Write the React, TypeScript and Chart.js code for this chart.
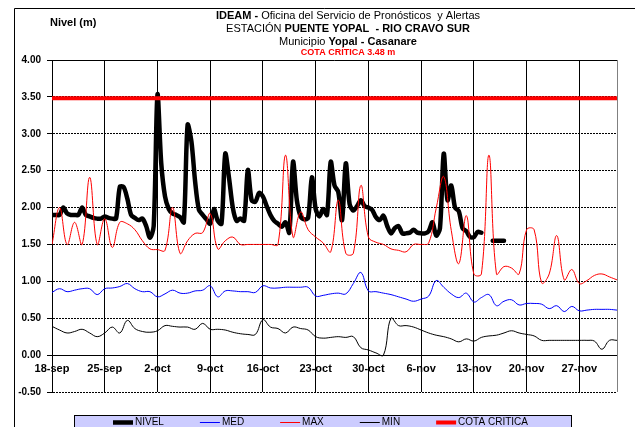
import React, { useEffect, useRef } from 'react';
import { Chart, registerables } from 'chart.js';

Chart.register(...registerables);

const FONT = '"Liberation Sans", Arial, Helvetica, sans-serif';

// X axis: days since 18-sep (0 .. 75 = 2-dec), labelled weekly
const X_TICK_LABELS = ['18-sep', '25-sep', '2-oct', '9-oct', '16-oct', '23-oct', '30-oct', '6-nov', '13-nov', '20-nov', '27-nov'];
const LAST_DAY = 75;

// NIVEL: two readings per day starting 18-sep (null = no reading)
const NIVEL = [
  1.90, 1.90, 1.90, 2.00, 1.92, 1.90, 1.90, 1.90, 2.00, 1.90,
  1.88, 1.86, 1.85, 1.85, 1.88, 1.86, 1.85, 1.85, 2.28, 2.28,
  2.12, 1.90, 1.86, 1.83, 1.85, 1.75, 1.59, 1.75, 3.53, 2.60,
  2.15, 1.98, 1.92, 1.90, 1.87, 1.80, 3.12, 2.90, 2.35, 1.97,
  1.90, 1.84, 1.78, 1.98, 1.82, 1.78, 2.73, 2.40, 2.00, 1.82,
  1.85, 1.82, 2.51, 2.10, 2.08, 2.20, 2.15, 2.02, 1.90, 1.82,
  1.78, 1.74, 1.80, 1.66, 2.62, 2.10, 1.88, 1.84, 1.86, 2.41,
  1.98, 1.88, 1.98, 1.90, 2.62, 2.30, 2.21, 1.83, 2.60, 2.05,
  1.96, 2.02, 2.10, 2.02, 2.00, 1.97, 1.87, 1.83, 1.89, 1.75,
  1.65, 1.72, 1.75, 1.65, 1.65, 1.66, 1.70, 1.66, 1.65, 1.65,
  1.68, 1.80, 1.62, 1.72, 2.73, 2.10, 2.30, 2.00, 1.95, 1.72,
  1.68, 1.60, 1.60, 1.67, 1.66, null, null, 1.55, 1.55, 1.55,
  1.55,
];

// Daily series, 18-sep .. 2-dec
const MED = [
  0.85, 0.90, 0.86, 0.88, 0.90, 0.90, 0.82, 0.90, 0.91, 0.93,
  0.97, 0.90, 0.86, 0.86, 0.79, 0.83, 0.88, 0.84, 0.84, 0.87,
  0.88, 0.94, 0.79, 0.87, 0.87, 0.86, 0.86, 0.85, 0.94, 0.91,
  0.91, 0.92, 0.92, 0.92, 0.92, 0.80, 0.81, 0.83, 0.84, 0.83,
  0.97, 1.12, 0.87, 0.86, 0.84, 0.82, 0.79, 0.76, 0.73, 0.76,
  0.80, 1.01, 0.92, 0.83, 0.78, 0.84, 0.72, 0.78, 0.82, 0.67,
  0.73, 0.75, 0.68, 0.70, 0.70, 0.69, 0.63, 0.67, 0.59, 0.66,
  0.60, 0.61, 0.62, 0.62, 0.62, 0.61,
];

const MAX = [
  1.50, 2.00, 1.50, 1.80, 1.50, 2.41, 1.50, 1.85, 1.46, 1.80,
  1.78, 1.70, 1.55, 1.44, 1.43, 1.42, 2.00, 1.38, 1.55, 1.65,
  1.66, 1.92, 1.44, 1.55, 1.60, 1.50, 1.50, 1.50, 1.50, 1.50,
  1.50, 2.71, 1.60, 1.94, 1.70, 1.60, 1.52, 1.40, 2.10, 1.38,
  1.38, 2.30, 1.60, 1.53, 1.50, 1.44, 1.42, 1.40, 1.50, 1.50,
  1.52, 1.99, 2.42, 1.69, 1.24, 1.89, 1.10, 1.10, 2.71, 1.10,
  1.20, 1.18, 1.10, 1.70, 1.70, 0.98, 1.10, 1.62, 1.02, 1.16,
  0.97, 1.01, 1.08, 1.10, 1.06, 1.02,
];

const MIN = [
  0.39, 0.34, 0.30, 0.32, 0.35, 0.30, 0.25, 0.30, 0.38, 0.30,
  0.47, 0.36, 0.32, 0.31, 0.33, 0.40, 0.39, 0.38, 0.38, 0.35,
  0.43, 0.35, 0.35, 0.34, 0.31, 0.29, 0.28, 0.28, 0.48, 0.38,
  0.36, 0.30, 0.38, 0.36, 0.34, 0.25, 0.23, 0.24, 0.25, 0.24,
  0.25, 0.10, 0.07, 0.03, 0.00, 0.50, 0.40, 0.40, 0.38, 0.34,
  0.30, 0.27, 0.25, 0.22, 0.18, 0.22, 0.19, 0.24, 0.26, 0.27,
  0.30, 0.33, 0.30, 0.28, 0.26, 0.20, 0.20, 0.20, 0.20, 0.20,
  0.20, 0.20, 0.19, 0.08, 0.20, 0.20,
];

const COTA_CRITICA = 3.48;

const Y_MIN = -0.5;
const Y_MAX = 4;
const Y_STEP = 0.5;

const TITLE_LINES = [
  [{ t: 'IDEAM - ', b: true }, { t: 'Oficina del Servicio de Pronósticos  y Alertas', b: false }],
  [{ t: 'ESTACIÓN ', b: false }, { t: 'PUENTE YOPAL  - RIO CRAVO SUR', b: true }],
  [{ t: 'Municipio ', b: false }, { t: 'Yopal - Casanare', b: true }],
];
const SUBTITLE = 'COTA CRÍTICA 3.48 m';
const Y_TITLE = 'Nivel (m)';

function drawRich(ctx: CanvasRenderingContext2D, segs: { t: string; b: boolean }[], cx: number, cy: number, size: number, color: string) {
  let total = 0;
  const widths: number[] = [];
  segs.forEach((s) => {
    ctx.font = `${s.b ? 'bold ' : ''}${size}px ${FONT}`;
    const w = ctx.measureText(s.t).width;
    widths.push(w);
    total += w;
  });
  let x = cx - total / 2;
  ctx.textAlign = 'left';
  ctx.textBaseline = 'middle';
  ctx.fillStyle = color;
  segs.forEach((s, i) => {
    ctx.font = `${s.b ? 'bold ' : ''}${size}px ${FONT}`;
    ctx.fillText(s.t, x, cy);
    x += widths[i];
  });
}

const decorPlugin = {
  id: 'decor',
  beforeDraw(chart: any) {
    const ctx = chart.ctx as CanvasRenderingContext2D;
    ctx.save();
    ctx.fillStyle = '#ffffff';
    ctx.fillRect(0, 0, chart.width, chart.height);
    // outer frame
    ctx.strokeStyle = '#000';
    ctx.lineWidth = 1;
    ctx.beginPath();
    ctx.moveTo(14.5, chart.height);
    ctx.lineTo(14.5, 8.5);
    ctx.lineTo(chart.width, 8.5);
    ctx.stroke();
    ctx.restore();
  },
  beforeDatasetsDraw(chart: any) {
    const ctx = chart.ctx as CanvasRenderingContext2D;
    const a = chart.chartArea;
    ctx.save();
    ctx.lineWidth = 1;
    ctx.strokeStyle = '#000';
    ctx.beginPath();
    ctx.moveTo(Math.round(a.left) - 0.5, Math.round(a.top) + 0.5);
    ctx.lineTo(Math.round(a.right), Math.round(a.top) + 0.5);
    ctx.stroke();
    ctx.strokeStyle = '#808080';
    ctx.beginPath();
    ctx.moveTo(Math.round(a.right) + 0.5, a.top);
    ctx.lineTo(Math.round(a.right) + 0.5, a.bottom);
    ctx.stroke();
    ctx.restore();
  },
  afterDraw(chart: any) {
    const ctx = chart.ctx as CanvasRenderingContext2D;
    ctx.save();
    // titles
    const cx = 348;
    const ys = [16, 29, 42];
    TITLE_LINES.forEach((line, i) => drawRich(ctx, line, cx, ys[i], 11, '#000'));
    drawRich(ctx, [{ t: SUBTITLE, b: true }], cx, 53, 9, '#ff0000');
    ctx.font = `bold 11px ${FONT}`;
    ctx.fillStyle = '#000';
    ctx.textAlign = 'left';
    ctx.textBaseline = 'middle';
    ctx.fillText(Y_TITLE, 50, 23);

    // legend
    ctx.fillStyle = '#ccccff';
    ctx.fillRect(74.5, 415.5, 497, 20);
    ctx.strokeStyle = '#000';
    ctx.lineWidth = 1;
    ctx.strokeRect(74.5, 415.5, 497, 20);
    let x = 113;
    const ly = 422.5;
    ctx.font = `10px ${FONT}`;
    chart.data.datasets.forEach((ds: any) => {
      ctx.strokeStyle = ds.borderColor;
      ctx.lineWidth = ds.borderWidth;
      ctx.lineCap = 'butt';
      ctx.beginPath();
      ctx.moveTo(x, ly);
      ctx.lineTo(x + 20, ly);
      ctx.stroke();
      ctx.fillStyle = '#000';
      ctx.textAlign = 'left';
      ctx.textBaseline = 'middle';
      ctx.fillText(ds.label, x + 22, ly);
      x += 22 + ctx.measureText(ds.label).width + 36;
    });
    ctx.restore();
  },
};

export default function App() {
  const ref = useRef<HTMLCanvasElement>(null);

  useEffect(() => {
    if (!ref.current) return;
    Chart.defaults.font.family = FONT;
    const chart = new Chart(ref.current, {
      type: 'line',
      data: {
        datasets: [
          {
            label: 'NIVEL',
            data: NIVEL.map((v, i) => ({ x: i / 2, y: v })),
            borderColor: '#000000',
            borderWidth: 4.5,
            tension: 0.3,
            borderJoinStyle: 'round',
            borderCapStyle: 'round',
            spanGaps: false,
            order: 5,
          },
          {
            label: 'MED',
            data: MED.map((v, i) => ({ x: i, y: v })),
            borderColor: '#0000ff',
            borderWidth: 1,
            tension: 0.4,
            order: 4,
          },
          {
            label: 'MAX',
            data: MAX.map((v, i) => ({ x: i, y: v })),
            borderColor: '#ff0000',
            borderWidth: 1,
            tension: 0.4,
            order: 3,
          },
          {
            label: 'MIN',
            data: MIN.map((v, i) => ({ x: i, y: v })),
            borderColor: '#000000',
            borderWidth: 1,
            tension: 0.4,
            order: 2,
          },
          {
            label: 'COTA CRITICA',
            data: [{ x: 0, y: COTA_CRITICA }, { x: LAST_DAY, y: COTA_CRITICA }],
            borderColor: '#ff0000',
            borderWidth: 4,
            tension: 0,
            order: 1,
          },
        ] as any,
      },
      options: {
        animation: false,
        responsive: false,
        devicePixelRatio: 1,
        layout: { padding: { left: 0, top: 60, right: 18, bottom: 35 } },
        elements: { point: { radius: 0, hoverRadius: 0 } },
        plugins: {
          legend: { display: false },
          tooltip: { enabled: false },
          title: { display: false },
        },
        scales: {
          x: {
            type: 'linear',
            position: { y: 0 } as any,
            min: 0,
            max: LAST_DAY,
            ticks: {
              stepSize: 7,
              includeBounds: false,
              autoSkip: false,
              maxRotation: 0,
              padding: 7,
              color: '#000',
              font: { size: 11, weight: 'bold' },
              callback: (v: any) => {
                const idx = Number(v) / 7;
                return Number.isInteger(idx) && X_TICK_LABELS[idx] ? X_TICK_LABELS[idx] : '';
              },
            },
            grid: { color: '#000', lineWidth: 1, drawTicks: false },
            border: { color: '#000', width: 1 },
          } as any,
          y: {
            min: Y_MIN,
            max: Y_MAX,
            ticks: {
              stepSize: Y_STEP,
              padding: 6,
              color: '#000',
              font: { size: 10, weight: 'bold' },
              callback: (v: any) => Number(v).toFixed(2),
            },
            grid: { color: '#000', lineWidth: 1, drawTicks: true, tickLength: 5 },
            border: { color: '#000', width: 1, dash: [2, 1] },
            afterFit: (s: any) => {
              s.width = 52;
            },
          } as any,
        },
      },
      plugins: [decorPlugin],
    });
    return () => chart.destroy();
  }, []);

  return (
    <canvas
      ref={ref}
      width={635}
      height={427}
      style={{ position: 'fixed', left: 0, top: 0, width: 635, height: 427, display: 'block' }}
    />
  );
}
